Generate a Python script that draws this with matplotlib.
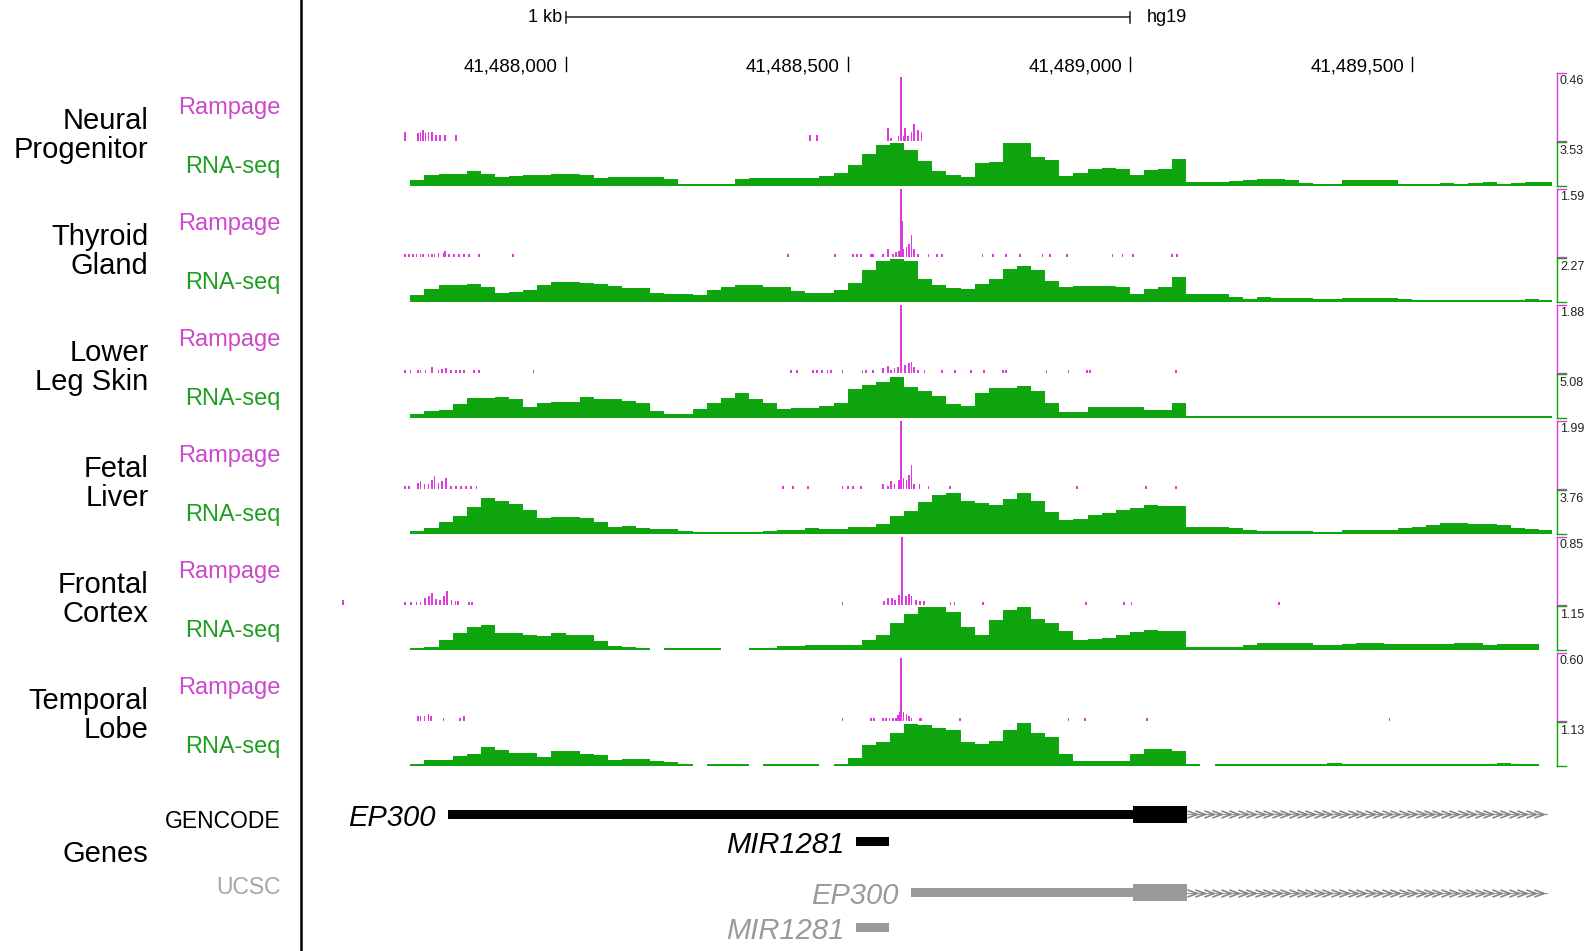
import numpy as np
import matplotlib.pyplot as plt
from matplotlib.lines import Line2D

W, H = 1595, 951
plt.rcParams['font.family'] = ['Liberation Sans', 'DejaVu Sans']

nan = np.nan

# genome window shown (hg19, chr22)
XLIM = (41487533, 41489748)
BIN_START = 41487725   # first RNA-seq bin
BIN_SIZE = 25          # bp per RNA-seq bin

tissues = ['Neural\nProgenitor', 'Thyroid\nGland', 'Lower\nLeg Skin',
           'Fetal\nLiver', 'Frontal\nCortex', 'Temporal\nLobe']
rampage_max = [0.46, 1.59, 1.88, 1.99, 0.85, 0.60]
rnaseq_max = [3.53, 2.27, 5.08, 3.76, 1.15, 1.13]

# RNA-seq coverage in 25 bp bins, percent of track scale (nan = no data)
rna_neural = [10, 21, 25, 25, 30, 23, 18, 20, 21, 21,
              25, 25, 22, 15, 17, 17, 17, 17, 13, 0,
              0, 0, 0, 11, 14, 14, 14, 15, 15, 19,
              27, 45, 72, 92, 97, 82, 55, 30, 21, 18,
              50, 53, 97, 97, 65, 57, 19, 27, 37, 38,
              37, 22, 33, 36, 60,
              5, 4, 5, 8, 10, 12, 13, 10, 3, 1, 1, 9, 9, 9, 9, 1, 1, 1, 2, 1, 2, 5, 1, 2, 5, 5]
rna_thyroid = [11, 27, 36, 37, 38, 31, 18, 20, 25, 35,
               44, 44, 40, 38, 34, 28, 28, 16, 15, 15,
               11, 23, 31, 36, 36, 31, 31, 21, 18, 18,
               23, 40, 72, 92, 97, 92, 50, 35, 28, 27,
               38, 50, 75, 80, 72, 45, 30, 33, 33, 33,
               32, 15, 27, 30, 55,
               14, 14, 14, 8, 3, 7, 6, 6, 4, 2, 2, 5, 5, 5, 5, 2, 1, 1, 1, 1, 1, 1, 1, 1, 3, 1]
rna_leg = [5, 12, 14, 28, 44, 44, 45, 40, 22, 30,
           34, 34, 45, 40, 40, 36, 30, 12, 4, 6,
           18, 31, 42, 54, 40, 31, 18, 19, 20, 25,
           32, 65, 74, 81, 92, 70, 60, 48, 28, 25,
           56, 67, 67, 71, 60, 30, 10, 10, 22, 22,
           22, 22, 14, 14, 32,
           0, 0, 0, 0, 0, 0, 0, 0, 0, 0, 0, 0, 0, 0, 0, 0, 0, 0, 0, 0, 0, 0, 0, 0, 0, 0]
rna_liver = [2, 10, 24, 38, 60, 80, 74, 66, 52, 33,
             37, 37, 33, 25, 12, 15, 10, 8, 8, 2,
             0, 0, 0, 0, 0, 2, 4, 5, 9, 8,
             8, 12, 12, 20, 38, 50, 72, 88, 94, 74,
             70, 65, 78, 92, 75, 48, 28, 32, 40, 45,
             53, 58, 64, 63, 62,
             12, 12, 12, 10, 4, 3, 3, 3, 2, 1, 1, 6, 6, 6, 6, 9, 12, 16, 22, 22, 20, 20, 16, 9, 7, 6]
rna_frontal = [0, 2, 20, 35, 50, 55, 36, 36, 30, 28,
               35, 30, 30, 18, 6, 3, 0, nan, 0, 0,
               0, 0, nan, nan, 0, 0, 4, 4, 8, 8,
               7, 7, 20, 32, 60, 80, 98, 98, 85, 50,
               30, 66, 90, 98, 70, 60, 40, 20, 22, 24,
               30, 38, 44, 40, 40,
               3, 3, 3, 3, 7, 12, 12, 12, 12, 7, 7, 9, 12, 12, 9, 9, 9, 9, 9, 12, 12, 7, 9, 9, 9, nan]
rna_temporal = [0, 9, 10, 20, 25, 40, 33, 26, 26, 17,
                31, 31, 24, 22, 10, 13, 13, 8, 4, 0,
                nan, 0, 0, 0, nan, 0, 0, 0, 0, nan,
                0, 15, 45, 52, 75, 96, 93, 86, 82, 52,
                47, 55, 80, 98, 75, 64, 25, 8, 8, 8,
                8, 25, 35, 35, 32,
                0, nan, 0, 0, 0, 0, 0, 0, 0, 0, 3, 0, 0, 0, 0, 0, 0, 0, 0, 0, 0, 0, 3, 0, 0, nan]
rna_tracks = [rna_neural, rna_thyroid, rna_leg, rna_liver, rna_frontal, rna_temporal]

# Rampage signal: positions (bp) and heights (percent of track scale)
ramp_neural_pos = [41487716, 41487739, 41487743, 41487748, 41487752, 41487757, 41487763, 41487770,
                   41487777, 41487786, 41487806, 41488433, 41488446, 41488572, 41488577, 41488590,
                   41488595, 41488599, 41488602, 41488607, 41488613, 41488617, 41488625, 41488631]
ramp_neural_pct = [12, 11, 13, 15, 11, 13, 12, 8, 8, 8, 8, 8, 8, 19, 3, 7, 93, 7, 19, 7, 13, 24, 15, 13]

ramp_thyroid_pos = [41487716, 41487723, 41487730, 41487736, 41487743, 41487748, 41487757, 41487763,
                    41487768, 41487775, 41487784, 41487786, 41487793, 41487802, 41487811, 41487820,
                    41487829, 41487847, 41487907, 41488394, 41488478, 41488509, 41488517, 41488523,
                    41488541, 41488545, 41488563, 41488572, 41488580, 41488586, 41488591, 41488595,
                    41488597, 41488599, 41488604, 41488608, 41488613, 41488617, 41488625, 41488643,
                    41488658, 41488667, 41488739, 41488757, 41488780, 41488805, 41488845, 41488859,
                    41488888, 41488969, 41488987, 41489005, 41489075, 41489084]
ramp_thyroid_pct = [3, 3, 3, 3, 3, 3, 3, 3, 4, 5, 5, 8, 3, 3, 3, 3, 3, 3, 3, 3, 3, 3, 3, 3,
                    3, 3, 3, 11, 3, 6, 8, 100, 52, 11, 14, 18, 31, 11, 3, 3,
                    3, 3, 3, 3, 3, 3, 3, 3, 3, 3, 3, 3, 3, 3]

ramp_leg_pos = [41487716, 41487725, 41487739, 41487743, 41487752, 41487763, 41487775, 41487781,
                41487788, 41487797, 41487806, 41487813, 41487820, 41487838, 41487847, 41487943,
                41488399, 41488410, 41488439, 41488446, 41488455, 41488464, 41488471, 41488491,
                41488526, 41488532, 41488545, 41488563, 41488571, 41488577, 41488583, 41488589,
                41488595, 41488601, 41488608, 41488613, 41488617, 41488625, 41488636, 41488667,
                41488690, 41488718, 41488742, 41488775, 41488780, 41488852, 41488891, 41488924,
                41488929, 41489082]
ramp_leg_pct = [3, 3, 3, 3, 3, 8, 4, 5, 7, 3, 3, 3, 3, 3, 3, 3,
                3, 3, 3, 3, 3, 3, 3, 3, 3, 3, 3, 6, 9, 4, 7, 8,
                100, 11, 14, 16, 8, 3, 3, 3, 3, 3, 3, 3, 3, 3, 3, 3, 3, 3]

ramp_liver_pos = [41487716, 41487723, 41487739, 41487743, 41487750, 41487757, 41487763, 41487768,
                  41487775, 41487781, 41487788, 41487797, 41487806, 41487815, 41487824, 41487833,
                  41487842, 41488385, 41488403, 41488430, 41488491, 41488500, 41488509, 41488523,
                  41488563, 41488571, 41488577, 41488583, 41488591, 41488595, 41488599, 41488604,
                  41488608, 41488613, 41488617, 41488627, 41488643, 41488681, 41488906, 41489028,
                  41489082]
ramp_liver_pct = [3, 3, 8, 11, 6, 7, 13, 18, 8, 11, 16, 3, 3, 3, 3, 3, 3,
                  3, 3, 3, 3, 3, 3, 3, 7, 3, 11, 6, 12, 100, 16, 13, 20, 35, 6, 6,
                  3, 3, 3, 3, 3]

ramp_frontal_pos = [41487606, 41487716, 41487726, 41487736, 41487743, 41487751, 41487758, 41487763,
                    41487770, 41487778, 41487785, 41487790, 41487798, 41487805, 41487809, 41487829,
                    41487834, 41488491, 41488564, 41488572, 41488579, 41488584, 41488591, 41488596,
                    41488603, 41488608, 41488613, 41488621, 41488628, 41488635, 41488682, 41488689,
                    41488740, 41488922, 41488990, 41489003, 41489264]
ramp_frontal_pct = [6, 3, 3, 3, 3, 9, 12, 17, 8, 7, 12, 20, 7, 5, 5, 3, 3,
                    3, 5, 9, 9, 7, 14, 100, 12, 15, 13, 7, 5, 5, 3, 3, 3, 3, 3, 3, 3]

ramp_temporal_pos = [41487739, 41487743, 41487750, 41487757, 41487761, 41487784, 41487813, 41487820,
                     41488491, 41488541, 41488547, 41488562, 41488568, 41488574, 41488580, 41488586,
                     41488589, 41488592, 41488595, 41488599, 41488604, 41488608, 41488613, 41488628,
                     41488631, 41488699, 41488891, 41488921, 41489030, 41489460]
ramp_temporal_pct = [7, 7, 6, 9, 6, 3, 3, 6, 3, 3, 3, 3, 3, 3, 4, 4, 8, 12, 92, 12, 9, 6, 4, 4,
                     3, 3, 3, 3, 3, 3]

ramp_pos = [ramp_neural_pos, ramp_thyroid_pos, ramp_leg_pos, ramp_liver_pos, ramp_frontal_pos, ramp_temporal_pos]
ramp_pct = [ramp_neural_pct, ramp_thyroid_pct, ramp_leg_pct, ramp_liver_pct, ramp_frontal_pct, ramp_temporal_pct]

# genes
ep300_gencode_utr = (41487791, 41489006)
ep300_ucsc_utr = (41488612, 41489006)
ep300_exon = (41489006, 41489102)
ep300_intron_end = 41489739
mir1281 = (41488515, 41488574)

# ruler
ruler_ticks = [41488000, 41488500, 41489000, 41489500]
scale_bar = (41488000, 41489000)

# colours
MAGENTA = '#dc3cdc'
MAGENTA_TXT = '#cc48cc'
GREEN = '#0ea50e'
GREEN_TXT = '#1f9f1f'
GREY = '#9a9a9a'

# layout (pixels)
X_LEFT, X_RIGHT = 302, 1552
BLOCK_TOP, BLOCK_STEP = 72.5, 116
RAMP_H, GAP, RNA_H = 68, 1.5, 44

fig = plt.figure(figsize=(W / 100, H / 100), dpi=100)


def px_axes(x0, y0, x1, y1):
    ax = fig.add_axes([x0 / W, 1 - y1 / H, (x1 - x0) / W, (y1 - y0) / H])
    ax.set_xlim(XLIM)
    ax.axis('off')
    return ax


def ftext(x, y, s, **kw):
    fig.text(x / W, 1 - y / H, s, **kw)


def bracket(ax, color, label):
    vx, tx = 1 + 5 / (X_RIGHT - X_LEFT), 1 + 14 / (X_RIGHT - X_LEFT)
    kw = dict(transform=ax.transAxes, clip_on=False, color=color, lw=1)
    ax.plot([vx, vx], [0, 1], **kw)
    ax.plot([vx, tx], [1, 1], **kw)
    ax.plot([vx, tx], [0, 0], **kw)
    ax.annotate(label, xy=(vx, 1), xycoords='axes fraction', xytext=(3, -3),
                textcoords='offset pixels', ha='left', va='top', fontsize=9, color='#222222')


edges = BIN_START + BIN_SIZE * np.arange(len(rna_neural))

for b in range(6):
    top = BLOCK_TOP + b * BLOCK_STEP

    # rampage track
    ax = px_axes(X_LEFT, top, X_RIGHT, top + RAMP_H)
    vmax = rampage_max[b]
    ax.set_ylim(0, vmax)
    ax.bar(ramp_pos[b], np.array(ramp_pct[b]) / 100 * vmax, width=3,
           color=MAGENTA, linewidth=0, antialiased=False)
    bracket(ax, MAGENTA, f'{vmax:.2f}')

    # RNA-seq track
    r_top = top + RAMP_H + GAP
    ax = px_axes(X_LEFT, r_top, X_RIGHT, r_top + RNA_H)
    vmax = rnaseq_max[b]
    base = 0.045 * vmax
    ax.set_ylim(-base, vmax)
    vals = np.array(rna_tracks[b], dtype=float)
    ok = ~np.isnan(vals)
    ax.bar(edges[ok], vals[ok] / 100 * vmax + base, bottom=-base, width=BIN_SIZE,
           align='edge', color=GREEN, linewidth=0, antialiased=False)
    bracket(ax, GREEN, f'{vmax:.2f}')

    # labels
    l1, l2 = tissues[b].split('\n')
    ftext(148.5, top + 56.5, l1, ha='right', va='baseline', fontsize=21)
    ftext(148.5, top + 86, l2, ha='right', va='baseline', fontsize=21)
    ftext(280.7, top + 41.5, 'Rampage', ha='right', va='baseline', fontsize=17, color=MAGENTA_TXT)
    ftext(280.7, top + 100.5, 'RNA-seq', ha='right', va='baseline', fontsize=17, color=GREEN_TXT)

# ruler
ax = px_axes(X_LEFT, 0, X_RIGHT, 80)
ax.set_ylim(80, 0)
ax.plot(scale_bar, [17.3, 17.3], color='#222222', lw=1.1)
for x in scale_bar:
    ax.plot([x, x], [11.5, 23], color='#222222', lw=1.1)
ax.annotate('1 kb', xy=(scale_bar[0], 17.3), xytext=(-3, 0), textcoords='offset pixels',
            ha='right', va='center', fontsize=13)
ax.annotate('hg19', xy=(scale_bar[1], 17.3), xytext=(17, 0), textcoords='offset pixels',
            ha='left', va='center', fontsize=13)
for t in ruler_ticks:
    ax.plot([t, t], [57, 71], color='black', lw=1)
    ax.annotate(f'{t:,}', xy=(t, 72), xytext=(-8, 0), textcoords='offset pixels',
                ha='right', va='baseline', fontsize=13.5)

# genes
ax = px_axes(X_LEFT, 785, X_RIGHT, 945)
ax.set_ylim(945, 785)


def draw_gene(row, utr, color, name):
    ax.broken_barh([(utr[0], utr[1] - utr[0])], (row - 4.5, 9), color=color, lw=0)
    ax.broken_barh([(ep300_exon[0], ep300_exon[1] - ep300_exon[0])], (row - 8.5, 17), color=color, lw=0)
    ax.plot([ep300_exon[1], ep300_intron_end], [row, row], color='#999999', lw=0.9)
    chev = np.arange(ep300_exon[1] + 8, ep300_intron_end, 15)
    ax.plot(chev, np.full(len(chev), row), ls='none', marker='$>$', ms=7,
            color='#808080', mew=0.2)
    ax.annotate(name, xy=(utr[0], row + 11.5), xytext=(-12, 0), textcoords='offset pixels',
                ha='right', va='baseline', fontsize=21, style='italic', color=color)


def draw_mir(row, color):
    ax.broken_barh([(mir1281[0], mir1281[1] - mir1281[0])], (row - 4.75, 9.5), color=color, lw=0)
    ax.annotate('MIR1281', xy=(mir1281[0], row + 11.5), xytext=(-12, 0), textcoords='offset pixels',
                ha='right', va='baseline', fontsize=21, style='italic', color=color)


draw_gene(814, ep300_gencode_utr, 'black', 'EP300')
draw_mir(841.5, 'black')
draw_gene(892.5, ep300_ucsc_utr, GREY, 'EP300')
draw_mir(927.5, GREY)

ftext(280.7, 828.5, 'GENCODE', ha='right', va='baseline', fontsize=16.5)
ftext(148.5, 862.5, 'Genes', ha='right', va='baseline', fontsize=21)
ftext(280.7, 894, 'UCSC', ha='right', va='baseline', fontsize=16.5, color='#a5a5a5')

# divider between labels and tracks
fig.add_artist(Line2D([301 / W, 301 / W], [0, 1], color='black', lw=1.8))

fig.savefig('out.png', dpi=100)
